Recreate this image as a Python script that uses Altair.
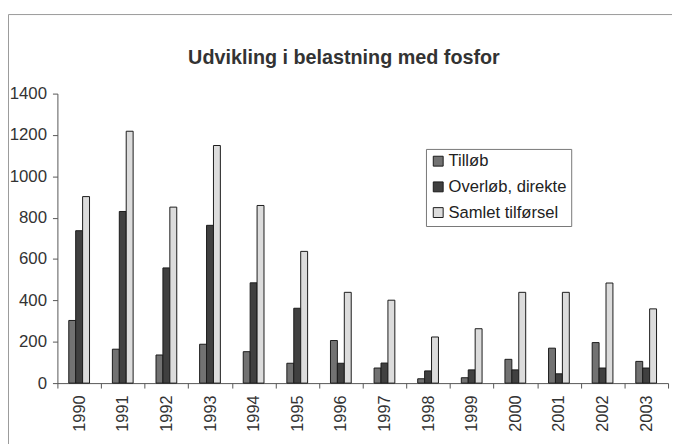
import altair as alt
import pandas as pd

years = ["1990", "1991", "1992", "1993", "1994", "1995", "1996", "1997",
         "1998", "1999", "2000", "2001", "2002", "2003"]
tillob = [303, 164, 136, 188, 152, 96, 206, 73, 21, 26, 115, 169, 196, 105]
overlob = [737, 830, 557, 763, 485, 362, 96, 97, 59, 64, 64, 45, 73, 73]
samlet = [902, 1218, 851, 1149, 859, 637, 439, 401, 223, 263, 439, 439, 484, 359]
series = ["Tilløb", "Overløb, direkte", "Samlet tilførsel"]
colors = ["#727272", "#404040", "#dcdcdc"]

rows = []
for i, y in enumerate(years):
    for s, vals in zip(series, [tillob, overlob, samlet]):
        rows.append({"year": y, "serie": s, "value": vals[i]})
df = pd.DataFrame(rows)

font = "Liberation Sans"

bars = alt.Chart(df).mark_bar(stroke="#1a1a1a", strokeWidth=1).encode(
    x=alt.X("year:N", sort=years, title=None,
            scale=alt.Scale(paddingInner=0, paddingOuter=0),
            axis=alt.Axis(labelAngle=-90, tickBand="extent", tickSize=5,
                          labelPadding=7, labelFontSize=16.5, labelFont=font,
                          labelColor="#333333", domainColor="#555555",
                          tickColor="#555555", grid=False)),
    xOffset=alt.XOffset("serie:N", sort=series,
                        scale=alt.Scale(range=[11.5, 32.5], paddingInner=0,
                                        paddingOuter=0)),
    y=alt.Y("value:Q", title=None,
            scale=alt.Scale(domain=[0, 1400], nice=False),
            axis=alt.Axis(values=list(range(0, 1401, 200)), format="d",
                          tickSize=5, labelPadding=6, labelFontSize=17,
                          labelFont=font, labelColor="#333333",
                          domainColor="#555555", tickColor="#555555",
                          grid=False)),
    color=alt.Color("serie:N", sort=series,
                    scale=alt.Scale(domain=series, range=colors),
                    legend=alt.Legend(title=None, orient="none",
                                      legendX=373, legendY=56,
                                      direction="vertical",
                                      symbolType="square", symbolSize=100,
                                      symbolStrokeColor="#1a1a1a",
                                      symbolStrokeWidth=1,
                                      labelOffset=2,
                                      labelFontSize=16.8, labelFont=font,
                                      labelColor="#222222",
                                      rowPadding=8, padding=4,
                                      strokeColor="#777777",
                                      fillColor="white")),
)

frame_top = alt.Chart(pd.DataFrame({"a": [0]})).mark_rule(
    color="#999999", strokeWidth=1).encode(
    x=alt.value(-49.5), x2=alt.value(640), y=alt.value(-80))
frame_left = alt.Chart(pd.DataFrame({"a": [0]})).mark_rule(
    color="#999999", strokeWidth=1).encode(
    x=alt.value(-49.5), y=alt.value(-80), y2=alt.value(360))

chart = alt.layer(frame_top, frame_left, bars).properties(
    width=618, height=293,
    autosize=alt.AutoSizeParams(type="none"),
    padding={"left": 50, "top": 84, "right": 4, "bottom": 60},
    title=alt.TitleParams("Udvikling i belastning med fosfor",
                          font=font, fontSize=20, fontWeight="bold",
                          color="#333333", anchor="middle", frame="group",
                          dx=-19, dy=70.5, offset=0, baseline="alphabetic"),
).configure_view(stroke=None)

chart.save("out.html", embed_options={"renderer": "svg", "actions": False})
